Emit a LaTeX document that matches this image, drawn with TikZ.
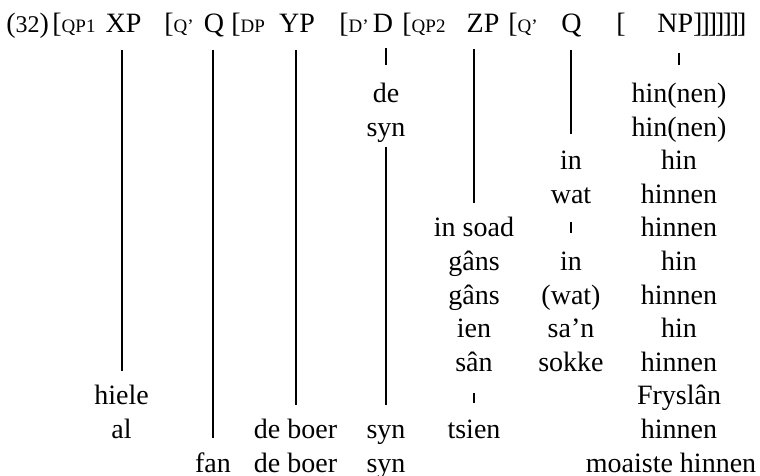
\documentclass[tikz,border=0pt]{standalone}
\usepackage{fontspec}
\setmainfont{Liberation Serif}
\usetikzlibrary{calc}
% faux small capitals and old-style figures
\newcommand\smcap[1]{{\fontsize{9.5}{11}\selectfont #1}}
\newcommand\osn[1]{{\fontsize{12}{13}\selectfont #1}}
% closing bracket set a little tighter
\newcommand\rb{]\kern-1pt}
\tikzset{
  word/.style={font=\fontsize{14}{17}\selectfont, inner sep=0pt, anchor=base},
  lead/.style={word, anchor=base west},
  vline/.style={line width=1pt},
  tick/.style={line width=1.4pt},
}
\begin{document}
\begin{tikzpicture}[x=0.5pt,y=-0.5pt]
\useasboundingbox (0,0) rectangle (760,476);

% labelled bracketing
\node[lead] (ex)   at (6,33)   {(\osn{32})};
\node[lead] (oQPa) at (52,33)  {[\smcap{QP1}};
\node[word] (XP)   at (123.5,33) {XP};
\node[lead] (oQa)  at (164,33) {[\smcap{Q’}};
\node[word] (Qa)   at (214,33) {Q};
\node[lead] (oDP)  at (231,33) {[\smcap{DP}};
\node[word] (YP)   at (297,33) {YP};
\node[lead] (oDb)  at (339,33) {[\smcap{D’}};
\node[word] (D)    at (383,33) {D};
\node[lead] (oQPb) at (402,33) {[\smcap{QP2}};
\node[word] (ZP)   at (483,33) {ZP};
\node[lead] (oQb)  at (508,33) {[\smcap{Q’}};
\node[word] (Qb)   at (571.5,33) {Q};
\node[word] (oN)   at (621,33) {[};
\node[lead] (NP)   at (657,33) {NP\rb\rb\rb\rb\rb\rb]};

% XP column
\node[word] (hiele) at (121.5,404.8) {hiele};
\node[word] (al)    at (121.5,438.4) {al};
% Q column
\node[word] (fan)   at (213,472) {fan};
% YP column
\node[word] (boerA) at (295.5,438.4) {de boer};
\node[word] (boerB) at (295.5,472) {de boer};
% D column
\node[word] (de)    at (386,102.4) {de};
\node[word] (synA)  at (386,136) {syn};
\node[word] (synB)  at (386,438.4) {syn};
\node[word] (synC)  at (386,472) {syn};
% ZP column
\node[word] (soad)  at (474,236.8) {in soad};
\node[word] (gansA) at (474,270.4) {gâns};
\node[word] (gansB) at (474,304) {gâns};
\node[word] (ien)   at (474,337.6) {ien};
\node[word] (san)   at (474,371.2) {sân};
\node[word] (tsien) at (474,438.4) {tsien};
% second Q column
\node[word] (inA)   at (571,169.6) {in};
\node[word] (watA)  at (571,203.2) {wat};
\node[word] (inB)   at (571,270.4) {in};
\node[word] (watB)  at (571,304) {(wat)};
\node[word] (sean)  at (571,337.6) {sa’n};
\node[word] (sokke) at (571,371.2) {sokke};
% NP column
\node[word] (nA) at (679,102.4) {hin(nen)};
\node[word] (nB) at (679,136)   {hin(nen)};
\node[word] (nC) at (679,169.6) {hin};
\node[word] (nD) at (679,203.2) {hinnen};
\node[word] (nE) at (679,236.8) {hinnen};
\node[word] (nF) at (679,270.4) {hin};
\node[word] (nG) at (679,304)   {hinnen};
\node[word] (nH) at (679,337.6) {hin};
\node[word] (nI) at (679,371.2) {hinnen};
\node[word] (nJ) at (679,404.8) {Fryslân};
\node[word] (nK) at (679,438.4) {hinnen};
\node[word] (nL) at (671,472)   {moaiste hinnen};

% association lines
\draw[vline] ($(XP.base -| hiele.base)+(0,17)$) -- ($(hiele.base)+(0,-33.6)$);
\draw[vline] ($(Qa.base -| fan.base)+(0,17)$) -- ($(fan.base)+(0,-33.6)$);
\draw[vline] ($(YP.base -| boerA.base)+(0,17)$) -- ($(boerA.base)+(0,-33.6)$);
\draw[vline] ($(synA.base -| synB.base)+(0,11)$) -- ($(synB.base)+(0,-33.6)$);
\draw[vline] ($(ZP.base -| soad.base)+(0,16)$) -- ($(soad.base)+(0,-33.6)$);
\draw[vline] ($(Qb.base -| inA.base)+(0,17)$) -- ($(inA.base)+(0,-36)$);
% short ticks
\draw[tick] ($(D.base -| de.base)+(0,15)$) -- ($(de.base)+(0,-37)$);
\draw[tick] ($(NP.base -| nA.base)+(0,20)$) -- ($(nA.base)+(0,-37)$);
\draw[tick] ($(watA.base)+(0,19)$) -- ($(inB.base)+(0,-37)$);
\draw[tick] ($(san.base)+(0,22)$) -- ($(tsien.base)+(0,-35)$);
\end{tikzpicture}
\end{document}
